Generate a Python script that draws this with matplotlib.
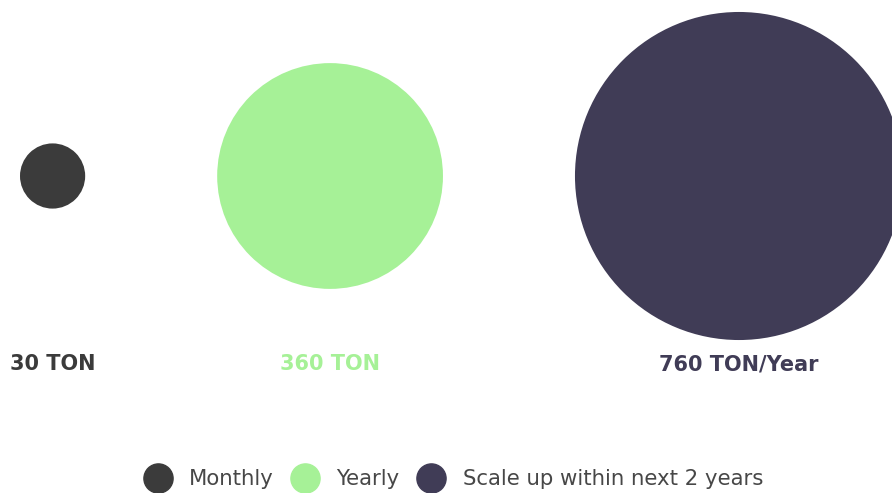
import numpy as np
import matplotlib.pyplot as plt
from matplotlib.lines import Line2D

plt.rcParams['font.family'] = ['DejaVu Sans']

names = ['Monthly', 'Yearly', 'Scale up within next 2 years']
values = [30, 360, 760]
labels = ['30 TON', '360 TON', '760 TON/Year']
colors = ['#3b3b3b', '#a6f197', '#403c56']

# radius (px) grows with sqrt of the value, circles laid out with a fixed gap
radii = 5.95 * np.sqrt(values)
gap = 132
xs = []
edge = 20
for r in radii:
    xs.append(edge + r)
    edge = edge + 2 * r + gap

fig = plt.figure(figsize=(8.92, 4.93), dpi=100)
ax = fig.add_axes([0, 0, 1, 1])
ax.set_xlim(0, 892)
ax.set_ylim(493, 0)
ax.set_aspect('equal')
ax.axis('off')

for x, r, c, lab in zip(xs, radii, colors, labels):
    ax.add_patch(plt.Circle((x, 176), r, color=c, lw=0))
    ax.text(x, 364, lab, ha='center', va='center', fontsize=15,
            fontweight='bold', color=c)

handles = [Line2D([], [], marker='o', ls='', markersize=21, color=c) for c in colors]
leg = ax.legend(handles, names, loc='center', bbox_to_anchor=(0.508, 0.028),
                ncol=3, frameon=False, fontsize=15.3, handletextpad=0.8,
                columnspacing=0.8, handlelength=1.35, borderpad=0)
for t in leg.get_texts():
    t.set_color('#474747')

fig.savefig('out.png', dpi=100)
